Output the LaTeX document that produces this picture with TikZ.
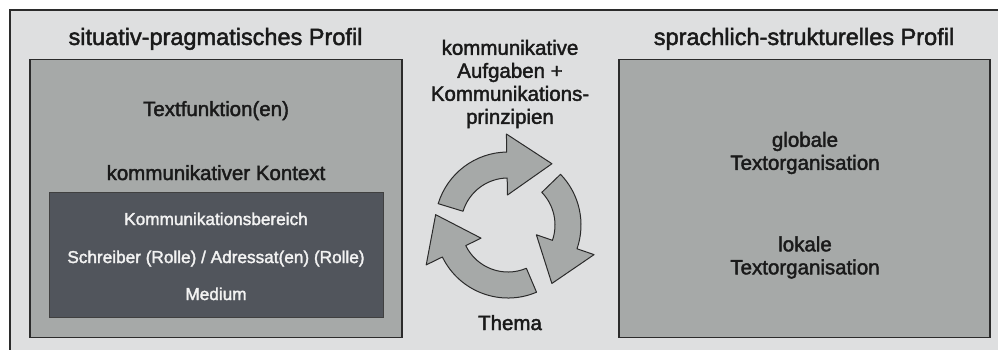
\documentclass[tikz,border=0pt]{standalone}
\usepackage{fontspec}
\setmainfont{Liberation Sans}
\newfontfamily\medf{Liberation Sans}[FakeBold=2]
\usetikzlibrary{calc}
\definecolor{bgc}{HTML}{DEDFE0}
\definecolor{boxc}{HTML}{A6A9A8}
\definecolor{darkc}{HTML}{51555C}
\definecolor{linec}{HTML}{2B2B2B}
\definecolor{txtc}{HTML}{1A1A1A}
\begin{document}
\begin{tikzpicture}[x=1pt,y=-1pt,
  frame/.style={draw=linec,line width=2pt,fill=bgc},
  panel/.style={draw=linec,line width=1.4pt,fill=boxc,inner sep=0pt},
  darkpanel/.style={draw=black!75,line width=1pt,fill=darkc,inner sep=0pt},
  title/.style={font=\medf\fontsize{23.5}{26}\selectfont,text=txtc,anchor=base,inner sep=0pt},
  body/.style={font=\medf\fontsize{20.5}{23}\selectfont,text=txtc,align=center,inner sep=0pt},
  small/.style={font=\medf\fontsize{17.2}{20}\selectfont,text=white!95!black,anchor=base,inner sep=0pt},
  cyc/.style={draw=linec,line width=1pt,fill=boxc,line join=round}]
\useasboundingbox (0,0) rectangle (998,349);
\clip (0,0) rectangle (998,349);
\fill[white] (0,0) rectangle (998,349);
\draw[frame] (9.5,9.5) rectangle (1010,360);
% panels
\node[panel,minimum width=372pt,minimum height=278pt] (left) at (216,198.5) {};
\node[darkpanel,minimum width=334pt,minimum height=125pt] (ctx) at (216,254.5) {};
\node[panel,minimum width=371pt,minimum height=278pt] (right) at (804.5,198.5) {};
% titles
\node[title] (tl) at (215.5,45) {situativ-pragmatisches Profil};
\node[title] (tr) at (804,45) {sprachlich-strukturelles Profil};
% left texts
\node[body,anchor=base] (tf) at (216,116) {Textfunktion(en)};
\node[body,anchor=base] (kk) at (216,180) {kommunikativer Kontext};
\node[small] (kb) at (216,225) {Kommunikationsbereich};
\node[small] (sa) at (216,263) {Schreiber (Rolle) / Adressat(en) (Rolle)};
\node[small] (me) at (216,300) {Medium};
% right texts
\node[body] (gt) at (805,153) {globale\\Textorganisation};
\node[body] (lt) at (805,257.5) {lokale\\Textorganisation};
% middle texts
\node[body] (ka) at (510,84) {kommunikative\\Aufgaben +\\Kommunikations-\\prinzipien};
\node[body,anchor=base] (th) at (510,330) {Thema};
% cycle of arrows
\begin{scope}[shift={(508,225)},x=1pt,y=1pt]
  \foreach \a/\b/\h in {163/91/45, 44/-19/41, -67/-154/41}{
    \draw[cyc] (\a:73) arc[start angle=\a, end angle=\b, radius=73]
      -- (\b:91) -- ($(\b:60.5)+(\b-90:\h)$) -- (\b:30) -- (\b:47)
      arc[start angle=\b, end angle=\a, radius=47] -- cycle;
  }
\end{scope}
\end{tikzpicture}
\end{document}
